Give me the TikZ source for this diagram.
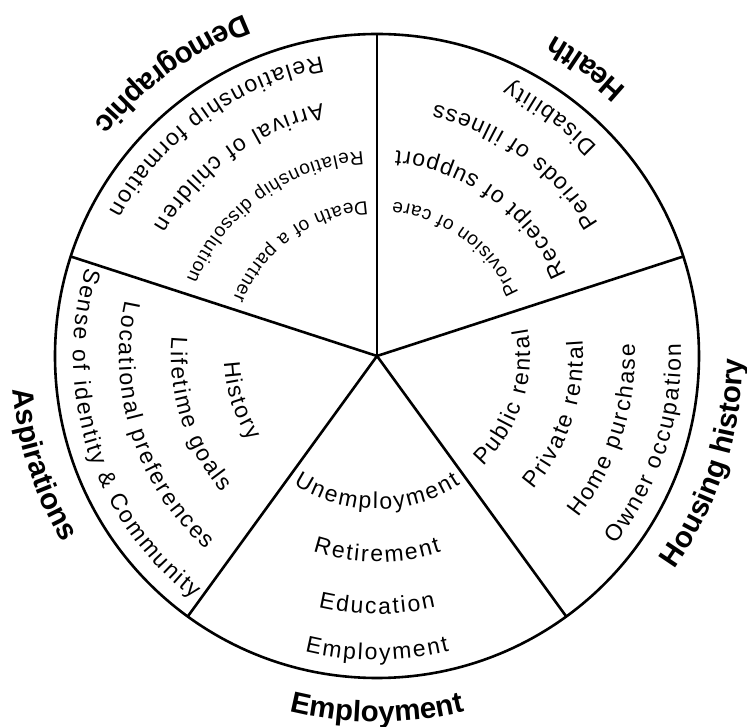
\documentclass[tikz,border=0pt]{standalone}
\usepackage{fontspec}
\setmainfont{Liberation Sans}
\newfontfamily\wheelfont{Liberation Sans}
\usetikzlibrary{decorations.text}
\newcommand{\bigtxt}{\wheelfont\fontsize{23pt}{23pt}\selectfont}
\newcommand{\smalltxt}{\wheelfont\fontsize{19pt}{19pt}\selectfont}
\newcommand{\headtxt}{\fontsize{29.5pt}{29.5pt}\selectfont\bfseries}

\begin{document}
\begin{tikzpicture}[
    rim/.style={line width=2.6pt, line join=round},
    ring/.style n args={3}{decorate, decoration={text effects along path, text={#3}, text align=center,
        text effects/.cd, text along path, characters={font=#1}, character widths={font=#1, inner xsep=#2}}}
]
    \useasboundingbox (-377pt,-371pt) rectangle (370pt,356pt);
    \coordinate (hub) at (0,0);
    \draw [rim] (hub) circle [radius=322pt];
    \foreach \a/\n in {90/demo-health, 18/health-housing, -54/housing-employ, -126/employ-aspire, 162/aspire-demo}{
        \coordinate (\n) at (\a:322pt);
        \draw [rim] (hub) -- (\n);
    }
    % Demographic
    \path [ring={\smalltxt}{0.65pt}{Death of a partner}] (81:155pt) arc [start angle=81, end angle=171, radius=155pt];
    \path [ring={\smalltxt}{0.65pt}{Relationship dissolution}] (81:205pt) arc [start angle=81, end angle=171, radius=205pt];
    \path [ring={\bigtxt}{1pt}{Arrival of children}] (81:258pt) arc [start angle=81, end angle=171, radius=258pt];
    \path [ring={\bigtxt}{1pt}{Relationship formation}] (81:304pt) arc [start angle=81, end angle=171, radius=304pt];
    \path [ring={\headtxt}{0pt}{Demographic}] (81:366pt) arc [start angle=81, end angle=171, radius=366pt];
    % Health
    \path [ring={\smalltxt}{0.65pt}{Provision of care}] (9:155pt) arc [start angle=9, end angle=99, radius=155pt];
    \path [ring={\bigtxt}{1pt}{Receipt of support}] (9:206pt) arc [start angle=9, end angle=99, radius=206pt];
    \path [ring={\bigtxt}{1pt}{Periods of illness}] (9:258pt) arc [start angle=9, end angle=99, radius=258pt];
    \path [ring={\bigtxt}{1pt}{Disability}] (9:304pt) arc [start angle=9, end angle=99, radius=304pt];
    \path [ring={\headtxt}{0pt}{Health}] (9:366pt) arc [start angle=9, end angle=99, radius=366pt];
    % Housing history
    \path [ring={\bigtxt}{1pt}{Public rental}] (-63:153pt) arc [start angle=-63, end angle=27, radius=153pt];
    \path [ring={\bigtxt}{1pt}{Private rental}] (-63:206pt) arc [start angle=-63, end angle=27, radius=206pt];
    \path [ring={\bigtxt}{1pt}{Home purchase}] (-63:258pt) arc [start angle=-63, end angle=27, radius=258pt];
    \path [ring={\bigtxt}{1pt}{Owner occupation}] (-63:304pt) arc [start angle=-63, end angle=27, radius=304pt];
    \path [ring={\headtxt}{0pt}{Housing history}] (-63:366pt) arc [start angle=-63, end angle=27, radius=366pt];
    % Employment
    \path [ring={\bigtxt}{1pt}{Unemployment}] (225:153pt) arc [start angle=225, end angle=315, radius=153pt];
    \path [ring={\bigtxt}{1pt}{Retirement}] (225:206pt) arc [start angle=225, end angle=315, radius=206pt];
    \path [ring={\bigtxt}{1pt}{Education}] (225:258pt) arc [start angle=225, end angle=315, radius=258pt];
    \path [ring={\bigtxt}{1pt}{Employment}] (225:304pt) arc [start angle=225, end angle=315, radius=304pt];
    \path [ring={\headtxt}{0pt}{Employment}] (225:366pt) arc [start angle=225, end angle=315, radius=366pt];
    % Aspirations
    \path [ring={\bigtxt}{1pt}{History}] (153:153pt) arc [start angle=153, end angle=243, radius=153pt];
    \path [ring={\bigtxt}{1pt}{Lifetime goals}] (153:206pt) arc [start angle=153, end angle=243, radius=206pt];
    \path [ring={\bigtxt}{1pt}{Locational preferences}] (153:258pt) arc [start angle=153, end angle=243, radius=258pt];
    \path [ring={\bigtxt}{1pt}{Sense of identity {\&} Community}] (153:304pt) arc [start angle=153, end angle=243, radius=304pt];
    \path [ring={\headtxt}{0pt}{Aspirations}] (153:366pt) arc [start angle=153, end angle=243, radius=366pt];
\end{tikzpicture}
\end{document}
